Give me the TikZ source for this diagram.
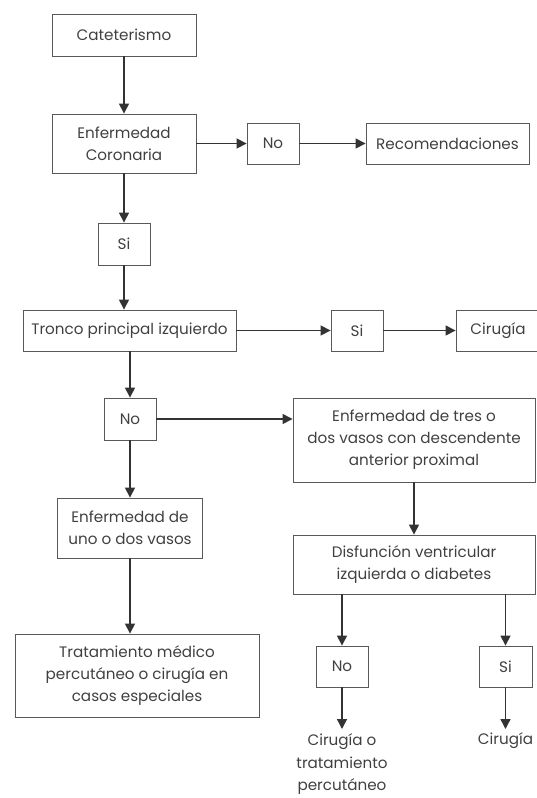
\documentclass[tikz,border=0pt]{standalone}
\usepackage{fontspec}
\setmainfont{Poppins}
\usetikzlibrary{arrows.meta}
\begin{document}
\begin{tikzpicture}[x=0.025cm,y=-0.025cm,
  box/.style={draw=black!65,line width=0.6pt,align=center,text=black!75,inner sep=0pt},
  arr/.style={draw=black!80,line width=1pt,-{Triangle[length=0.25cm,width=0.25cm]}},
  font=\fontsize{10.8}{15.6}\selectfont]
\clip (0,0) rectangle (537,798);
% left column
\node[box,minimum width=3.6cm,minimum height=1.05cm](cat) at (124,35) {Cateterismo};
\node[box,minimum width=3.6cm,minimum height=1.475cm](enf) at (124,143.5) {Enfermedad\\Coronaria};
\node[box,minimum width=1.3cm,minimum height=1.025cm](no1) at (273,143.5) {No};
\node[box,minimum width=4.075cm,minimum height=1.025cm](rec) at (447.5,143.5) {Recomendaciones};
\node[box,minimum width=1.3cm,minimum height=1.05cm](si1) at (124,244) {Si};
\node[box,minimum width=5.325cm,minimum height=1.025cm](tronco) at (129.5,330.5) {Tronco principal izquierdo};
\node[box,minimum width=1.3cm,minimum height=1.025cm](si2) at (357,330.5) {Si};
\node[box,minimum width=2.1cm,minimum height=1.025cm](cir1) at (498,330.5) {Cirugía};
\node[box,minimum width=1.3cm,minimum height=1.05cm](no2) at (130,419) {No};
\node[box,minimum width=3.625cm,minimum height=1.5cm](uno) at (130,528) {Enfermedad de\\uno o dos vasos};
\node[box,minimum width=6.1cm,minimum height=2.075cm](trat) at (137,675.5) {Tratamiento médico\\percutáneo o cirugía en\\casos especiales};
% right column
\node[box,minimum width=6.05cm,minimum height=2.1cm](tres) at (414,440) {Enfermedad de tres o\\dos vasos con descendente\\anterior proximal};
\node[box,minimum width=6.05cm,minimum height=1.475cm](disf) at (414,564.5) {Disfunción ventricular\\izquierda o diabetes};
\node[box,minimum width=1.3cm,minimum height=1.025cm](no3) at (342,666.5) {No};
\node[box,minimum width=1.325cm,minimum height=1.025cm](si3) at (505.5,666.5) {Si};
\node[box,draw=none,anchor=north,font=\fontsize{10.8}{16.2}\selectfont](cir2) at (342,729) {\strut Cirugía o\\tratamiento\\percutáneo};
\node[box,draw=none,anchor=north](cir3) at (505.5,729) {\strut Cirugía};
% connectors
\draw[arr] (cat) -- (enf);
\draw[arr] (enf) -- (no1);
\draw[arr] (no1) -- (rec);
\draw[arr] (enf) -- (si1);
\draw[arr] (si1) -- (si1 |- tronco.north);
\draw[arr] (tronco) -- (si2);
\draw[arr] (si2) -- (cir1);
\draw[arr] (tronco.south -| no2) -- (no2);
\draw[arr] (no2) -- (no2 -| tres.west);
\draw[arr] (no2) -- (uno);
\draw[arr] (uno) -- (uno |- trat.north);
\draw[arr] (tres) -- (disf);
\draw[arr] (disf.south -| no3) -- (no3);
\draw[arr] (disf.south -| si3) -- (si3);
\draw[arr] (no3) -- (cir2);
\draw[arr] (si3) -- (cir3);
\end{tikzpicture}
\end{document}
